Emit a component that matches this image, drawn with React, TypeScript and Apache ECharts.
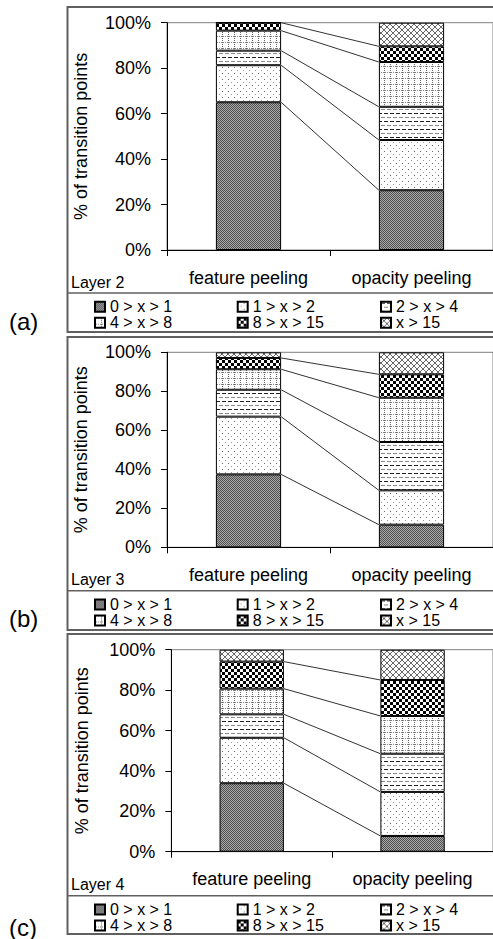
import React, { useEffect, useRef } from 'react';
import * as echarts from 'echarts';

const categories = ['feature peeling', 'opacity peeling'];
const seriesNames = ['0 > x > 1', '1 > x > 2', '2 > x > 4', '4 > x > 8', '8 > x > 15', 'x > 15'];
const yTickValues = [0, 20, 40, 60, 80, 100];
const panelLabels = ['(a)', '(b)', '(c)'];
const layerLabels = ['Layer 2', 'Layer 3', 'Layer 4'];

const layer2Feature = [65.0, 16.3, 6.4, 8.8, 3.5, 0.0];
const layer2Opacity = [26.3, 22.1, 14.6, 19.7, 6.9, 10.4];
const layer3Feature = [37.4, 29.6, 13.8, 10.5, 5.8, 2.9];
const layer3Opacity = [11.6, 17.6, 24.8, 22.7, 12.0, 11.3];
const layer4Feature = [33.9, 22.5, 11.6, 12.7, 13.4, 5.9];
const layer4Opacity = [7.8, 21.8, 18.9, 18.7, 17.8, 15.0];

const FONT = 'Liberation Sans, Arial, Helvetica, sans-serif';

function makePattern(w: number, h: number, draw: (px: (x: number, y: number, c: string) => void) => void, bg = '#ffffff') {
  const c = document.createElement('canvas');
  c.width = w;
  c.height = h;
  const ctx = c.getContext('2d')!;
  ctx.fillStyle = bg;
  ctx.fillRect(0, 0, w, h);
  const px = (x: number, y: number, col: string) => {
    ctx.fillStyle = col;
    ctx.fillRect(x, y, 1, 1);
  };
  draw(px);
  return { image: c.toDataURL(), repeat: 'repeat', imageWidth: w, imageHeight: h } as any;
}

function buildPatterns() {
  const p0 = makePattern(2, 2, (px) => {
    px(0, 0, '#505050');
    px(1, 1, '#505050');
  }, '#a8a8a8');
  const p1 = makePattern(6, 6, (px) => {
    px(0, 1, '#666666');
    px(3, 4, '#999999');
  });
  const p2 = makePattern(6, 8, (px) => {
    for (let x = 0; x < 4; x++) px(x, 1, '#222222');
    for (let x = 3; x < 7; x++) px(x % 6, 5, '#888888');
  });
  const p3 = makePattern(6, 6, (px) => {
    for (let y = 0; y < 6; y += 2) px(0, y, '#666666');
    for (let x = 1; x < 6; x += 2) px(x, 0, '#888888');
  });
  const p4 = makePattern(6, 6, (px) => {
    for (let x = 0; x < 3; x++) for (let y = 0; y < 3; y++) {
      px(x, y, '#000000');
      px(x + 3, y + 3, '#000000');
    }
  });
  const p5 = makePattern(6, 6, (px) => {
    for (let i = 0; i < 6; i++) {
      px(i, i, '#6a6a6a');
      px(5 - i, i, '#6a6a6a');
    }
  });
  return [p0, p1, p2, p3, p4, p5];
}

function cumulative(arr: number[]) {
  const out: number[] = [];
  let s = 0;
  for (const v of arr) {
    s += v;
    out.push(s);
  }
  return out;
}

export default function App() {
  const ref = useRef<HTMLDivElement>(null);

  useEffect(() => {
    if (!ref.current) return;
    const chart = echarts.init(ref.current, undefined, { renderer: 'svg' });
    const patterns = buildPatterns();

    const featureData = [layer2Feature, layer3Feature, layer4Feature];
    const opacityData = [layer2Opacity, layer3Opacity, layer4Opacity];

    const layout = [
      { boxTop: 7, sep: 293, boxBottom: 332, gridLeft: 167, gridTop: 22.7, gridH: 227.3, nameGap: 77, labelY: 321, legendRow: 306 },
      { boxTop: 337, sep: 590.7, boxBottom: 630, gridLeft: 167, gridTop: 352.3, gridH: 195, nameGap: 77, labelY: 618, legendRow: 603.7 },
      { boxTop: 634, sep: 895.7, boxBottom: 934, gridLeft: 171.3, gridTop: 649.7, gridH: 202, nameGap: 80, labelY: 927, legendRow: 908.7 },
    ];
    const legendCols = [94, 236.7, 380];
    const rowH = 14.5;

    const grids: any[] = [];
    const xAxes: any[] = [];
    const yAxes: any[] = [];
    const series: any[] = [];
    const legends: any[] = [];
    const graphics: any[] = [];

    layout.forEach((L, p) => {
      grids.push({
        left: L.gridLeft,
        top: L.gridTop,
        width: 327,
        height: L.gridH,
        show: true,
        borderColor: '#808080',
        borderWidth: 1,
        backgroundColor: 'transparent',
        containLabel: false,
      });
      xAxes.push({
        type: 'category',
        gridIndex: p,
        data: categories,
        axisLine: { show: true, lineStyle: { color: '#000', width: 1 } },
        axisTick: { show: true, length: 6, lineStyle: { color: '#000' } },
        axisLabel: { color: '#000', fontSize: 18, fontFamily: FONT, margin: 27.5, verticalAlign: 'middle' },
        splitLine: { show: false },
      });
      yAxes.push({
        type: 'value',
        gridIndex: p,
        min: yTickValues[0],
        max: yTickValues[yTickValues.length - 1],
        interval: yTickValues[1] - yTickValues[0],
        name: '% of transition points',
        nameLocation: 'middle',
        nameGap: L.nameGap,
        nameTextStyle: { color: '#000', fontSize: 18, fontFamily: FONT },
        axisLine: { show: true, lineStyle: { color: '#000', width: 1 } },
        axisTick: { show: true, length: 6, lineStyle: { color: '#000' } },
        axisLabel: { color: '#000', fontSize: 18, fontFamily: FONT, margin: 16, formatter: '{value}%' },
        splitLine: { show: false },
      });

      const f = featureData[p];
      const o = opacityData[p];
      seriesNames.forEach((name, i) => {
        series.push({
          type: 'bar',
          name,
          stack: 'panel' + p,
          xAxisIndex: p,
          yAxisIndex: p,
          barWidth: '40%',
          data: [f[i], o[i]],
          itemStyle: { color: patterns[i], borderColor: '#000', borderWidth: 1 },
          emphasis: { disabled: true },
        });
      });
      const cf = cumulative(f);
      const co = cumulative(o);
      const lineData: number[][] = [];
      for (let k = 0; k < seriesNames.length - 1; k++) lineData.push([0, cf[k], co[k]]);
      series.push({
        type: 'custom',
        name: 'series lines ' + p,
        xAxisIndex: p,
        yAxisIndex: p,
        encode: { x: 0, y: 1 },
        data: lineData,
        z: 3,
        renderItem: (params: any, api: any) => {
          const p1 = api.coord([0, api.value(1)]);
          const p2 = api.coord([1, api.value(2)]);
          const bw = api.size([1, 0])[0] * 0.4;
          return {
            type: 'line',
            shape: { x1: p1[0] + bw / 2, y1: p1[1], x2: p2[0] - bw / 2, y2: p2[1] },
            style: { stroke: '#333', lineWidth: 1 },
          };
        },
      });

      legendCols.forEach((lx, c) => {
        legends.push({
          orient: 'vertical',
          left: lx,
          top: L.legendRow - rowH / 2,
          padding: 0,
          itemGap: 0,
          itemWidth: 10,
          itemHeight: 10,
          icon: 'rect',
          selectedMode: false,
          data: [seriesNames[c], seriesNames[c + 3]],
          textStyle: { color: '#000', fontSize: 16, fontFamily: FONT, lineHeight: rowH, padding: [0, 0, 0, 0] },
        });
      });

      graphics.push({
        type: 'rect',
        shape: { x: 67.5, y: L.boxTop, width: 450, height: L.boxBottom - L.boxTop },
        style: { fill: 'none', stroke: '#606060', lineWidth: 2 },
        silent: true,
      });
      graphics.push({
        type: 'line',
        shape: { x1: 67, y1: L.sep, x2: 500, y2: L.sep },
        style: { stroke: '#606060', lineWidth: 1.5 },
        silent: true,
      });
      graphics.push({
        type: 'text',
        x: 71,
        y: L.sep - 11,
        style: { text: layerLabels[p], fontSize: 16, fontFamily: FONT, fill: '#000', verticalAlign: 'middle', align: 'left' },
        silent: true,
      });
      graphics.push({
        type: 'text',
        x: 9,
        y: L.labelY,
        style: { text: panelLabels[p], fontSize: 24, fontFamily: FONT, fill: '#000', verticalAlign: 'middle', align: 'left' },
        silent: true,
      });
    });

    chart.setOption({
      animation: false,
      backgroundColor: '#ffffff',
      grid: grids,
      xAxis: xAxes,
      yAxis: yAxes,
      legend: legends,
      series,
      graphic: graphics,
    });

    return () => {
      chart.dispose();
    };
  }, []);

  return <div ref={ref} style={{ position: 'absolute', left: 0, top: 0, width: 493, height: 939 }} />;
}
